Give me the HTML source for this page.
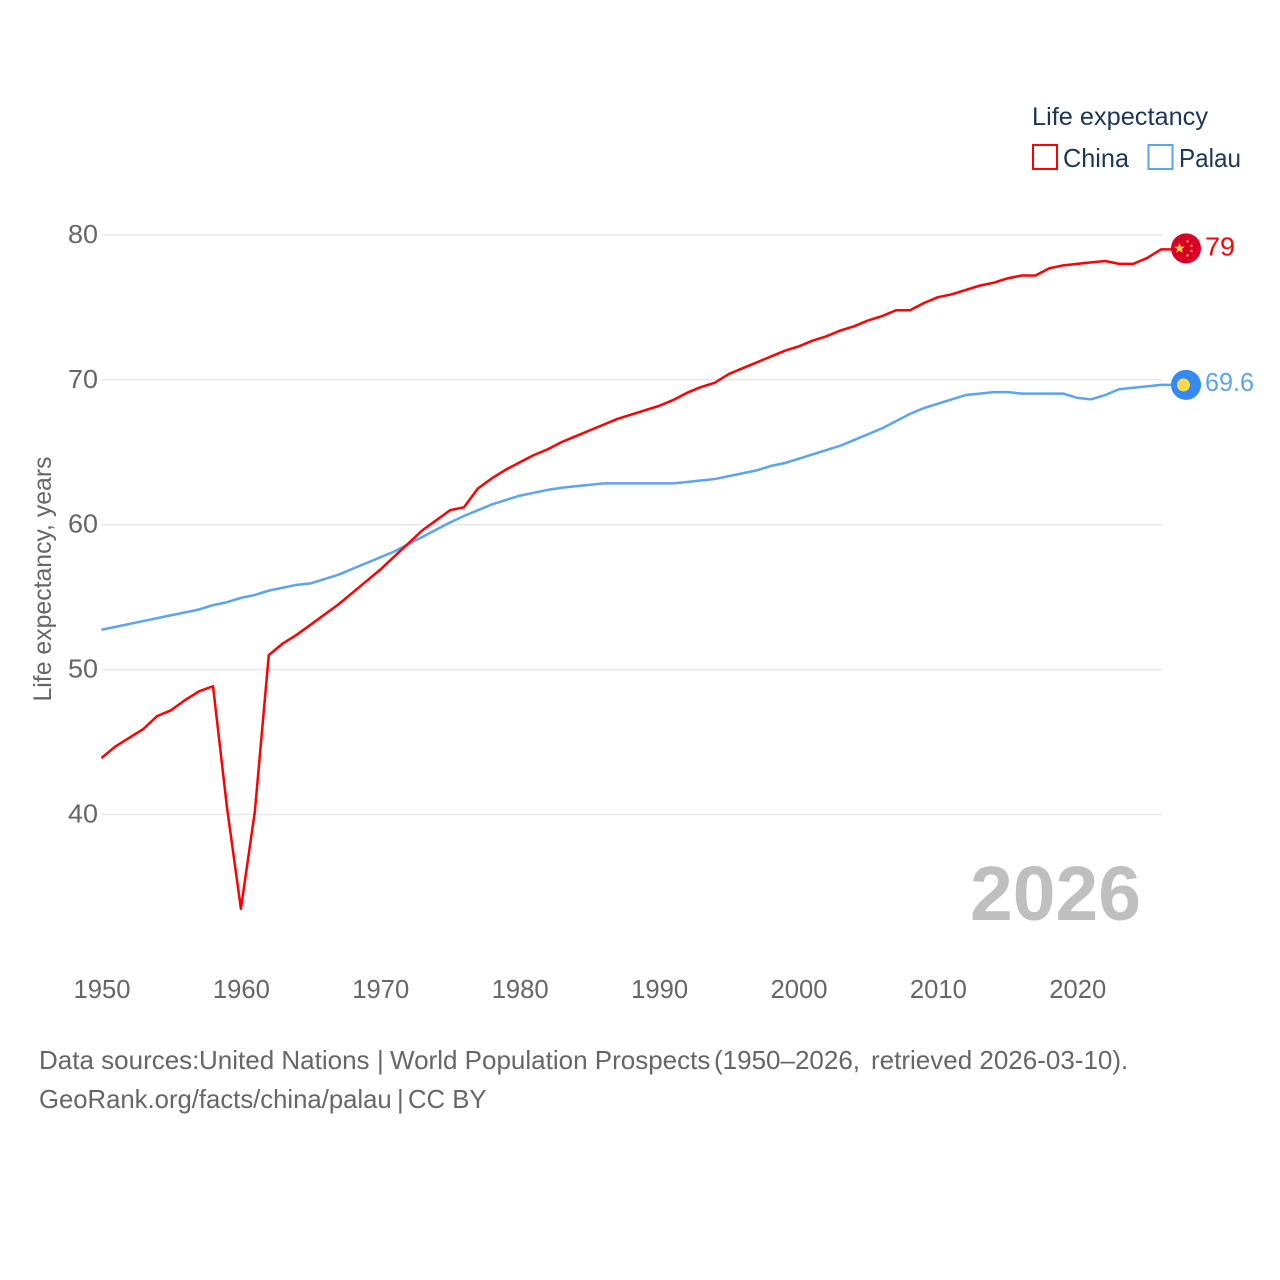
<!DOCTYPE html>
<html lang="en">
<head>
<meta charset="utf-8">
<title>Life expectancy: China vs Palau</title>
<style>
html,body{margin:0;padding:0;background:#fff;}
svg{display:block;}
text{font-family:"Liberation Sans",sans-serif;}
</style>
</head>
<body>
<svg id="chart" xmlns="http://www.w3.org/2000/svg" width="1280" height="1280" viewBox="0 0 1280 1280">
<rect width="1280" height="1280" fill="#fff"/>
<g id="grid"></g>
<g id="yLabels"></g>
<g id="xLabels"></g>
<text transform="translate(51,579) rotate(-90)" text-anchor="middle" font-size="25" fill="#666" textLength="245" lengthAdjust="spacingAndGlyphs">Life expectancy, years</text>
<g id="series"></g>
<g id="markers"></g>
<text x="1141" y="920" text-anchor="end" font-size="77" font-weight="700" fill="#bfbfbf" textLength="171" lengthAdjust="spacingAndGlyphs">2026</text>
<g>
<text x="1032" y="125" font-size="25" fill="#1d3557" textLength="176" lengthAdjust="spacingAndGlyphs">Life expectancy</text>
<rect x="1033" y="145" width="24" height="24" fill="none" stroke="#ff0000" stroke-width="2"/>
<text x="1063" y="167" font-size="26" fill="#1d3557" textLength="66" lengthAdjust="spacingAndGlyphs">China</text>
<rect x="1148.5" y="145" width="24" height="24" fill="none" stroke="#5ba4f0" stroke-width="2"/>
<text x="1179" y="167" font-size="26" fill="#1d3557" textLength="62" lengthAdjust="spacingAndGlyphs">Palau</text>
</g>
<text y="1069" font-size="26" fill="#666"><tspan x="39">Data sources: </tspan><tspan x="199">United Nations </tspan><tspan x="377">| </tspan><tspan x="390">World Population Prospects </tspan><tspan x="714">(1950–2026, </tspan><tspan x="871">retrieved 2026-03-10).</tspan></text>
<text y="1108" font-size="25.7" fill="#666"><tspan x="39">GeoRank.org/facts/china/palau </tspan><tspan x="397">| </tspan><tspan x="408">CC BY</tspan></text>
</svg>
<script>
const startYear = 1950;
const yTicks = [40, 50, 60, 70, 80];
const xTicks = [1950, 1960, 1970, 1980, 1990, 2000, 2010, 2020];
const chinaValues = [
  43.9, 44.7, 45.3, 45.9, 46.8, 47.2, 47.9, 48.5, 48.85, 40.5,
  33.5, 40.2, 51.0, 51.8, 52.4, 53.1, 53.8, 54.5, 55.3, 56.1,
  56.9, 57.8, 58.7, 59.6, 60.3, 61.0, 61.2, 62.5, 63.2, 63.8,
  64.3, 64.8, 65.2, 65.7, 66.1, 66.5, 66.9, 67.3, 67.6, 67.9,
  68.2, 68.6, 69.1, 69.5, 69.8, 70.4, 70.8, 71.2, 71.6, 72.0,
  72.3, 72.7, 73.0, 73.4, 73.7, 74.1, 74.4, 74.8, 74.8, 75.3,
  75.7, 75.9, 76.2, 76.5, 76.7, 77.0, 77.2, 77.2, 77.7, 77.9,
  78.0, 78.1, 78.2, 78.0, 78.0, 78.4, 79.0
];
const palauValues = [
  52.75, 52.95, 53.15, 53.35, 53.55, 53.75, 53.95, 54.15, 54.45, 54.65,
  54.95, 55.15, 55.45, 55.65, 55.85, 55.95, 56.25, 56.55, 56.95, 57.35,
  57.75, 58.15, 58.65, 59.15, 59.65, 60.15, 60.6, 61.0, 61.4, 61.7,
  62.0, 62.2, 62.4, 62.55, 62.65, 62.75, 62.85, 62.85, 62.85, 62.85,
  62.85, 62.85, 62.95, 63.05, 63.15, 63.35, 63.55, 63.75, 64.05, 64.25,
  64.55, 64.85, 65.15, 65.45, 65.85, 66.25, 66.65, 67.15, 67.65, 68.05,
  68.35, 68.65, 68.95, 69.05, 69.15, 69.15, 69.05, 69.05, 69.05, 69.05,
  68.75, 68.65, 68.95, 69.35, 69.45, 69.55, 69.65
];
const chinaEndLabel = "79";
const palauEndLabel = "69.6";

const NS = "http://www.w3.org/2000/svg";
const xScale = function (year) { return 101.5 + (year - 1950) * 13.94; };
const yScale = function (v) { return 814.5 - (v - 40) * 14.49; };
function make(tag, attrs, parent) {
  const el = document.createElementNS(NS, tag);
  for (const k in attrs) el.setAttribute(k, attrs[k]);
  parent.appendChild(el);
  return el;
}

const gridG = document.getElementById("grid");
const yG = document.getElementById("yLabels");
yTicks.forEach(function (t) {
  const gl = make("line", { x1: 102, x2: 1162, y1: yScale(t), y2: yScale(t), stroke: "#e8e8e8", "stroke-width": 1.5 }, gridG);
  
  
  const lb = make("text", { x: 98, y: yScale(t) + 8, "text-anchor": "end", "font-size": 26, fill: "#666", textLength: 30, lengthAdjust: "spacingAndGlyphs" }, yG);
  
  
  lb.textContent = t;
});

const xG = document.getElementById("xLabels");
xTicks.forEach(function (t) {
  const lb = make("text", { x: xScale(t) + 0.5, y: 998, "text-anchor": "middle", "font-size": 26, fill: "#666", textLength: 57, lengthAdjust: "spacingAndGlyphs" }, xG);
  
  
  lb.textContent = t;
});

function linePoints(values) {
  const pts = values.map(function (v, i) { return xScale(startYear + i).toFixed(2) + "," + yScale(v).toFixed(2); });
  const last = values[values.length - 1];
  pts.push("1172," + yScale(last).toFixed(2));
  return pts.join(" ");
}
const seriesG = document.getElementById("series");
const palauLine = make("polyline", { points: linePoints(palauValues), fill: "none", stroke: "#5ba4f0", "stroke-width": 2.5, "stroke-linejoin": "round" }, seriesG);


const chinaLine = make("polyline", { points: linePoints(chinaValues), fill: "none", stroke: "#ff0000", "stroke-width": 2.5, "stroke-linejoin": "round" }, seriesG);



const mG = document.getElementById("markers");
const chinaY = yScale(chinaValues[chinaValues.length - 1]) - 1;
const palauY = yScale(palauValues[palauValues.length - 1]);

const chinaFlag = make("g", { transform: "translate(1186," + chinaY + ")" }, mG);


make("circle", { cx: 0, cy: 0, r: 15, fill: "#d80027" }, chinaFlag);
make("polygon", { points: "-6.5,-5.5 -5,-1.8 -1.2,-1.8 -4.2,0.6 -3.2,4.4 -6.5,2.2 -9.8,4.4 -8.8,0.6 -11.8,-1.8 -8,-1.8", fill: "#ffda44" }, chinaFlag);
make("circle", { cx: 1.5, cy: -7, r: 1.1, fill: "#ffda44" }, chinaFlag);
make("circle", { cx: 5.5, cy: -2.5, r: 1.1, fill: "#ffda44" }, chinaFlag);
make("circle", { cx: 5.5, cy: 2.5, r: 1.1, fill: "#ffda44" }, chinaFlag);
make("circle", { cx: 1.5, cy: 7, r: 1.1, fill: "#ffda44" }, chinaFlag);

const palauFlag = make("g", { transform: "translate(1186," + palauY + ")" }, mG);


make("circle", { cx: 0, cy: 0, r: 15, fill: "#338af3" }, palauFlag);
make("circle", { cx: -2.5, cy: 0, r: 6.5, fill: "#ffda44" }, palauFlag);

const chinaLabel = make("text", { x: 1205, y: chinaY + 7, "font-size": 26, fill: "#ff0000", textLength: 30, lengthAdjust: "spacingAndGlyphs" }, mG);


chinaLabel.textContent = chinaEndLabel;

const palauLabel = make("text", { x: 1205, y: palauY + 6, "font-size": 26, fill: "#5ba4f0", textLength: 49, lengthAdjust: "spacingAndGlyphs" }, mG);


palauLabel.textContent = palauEndLabel;
</script>
</body>
</html>
